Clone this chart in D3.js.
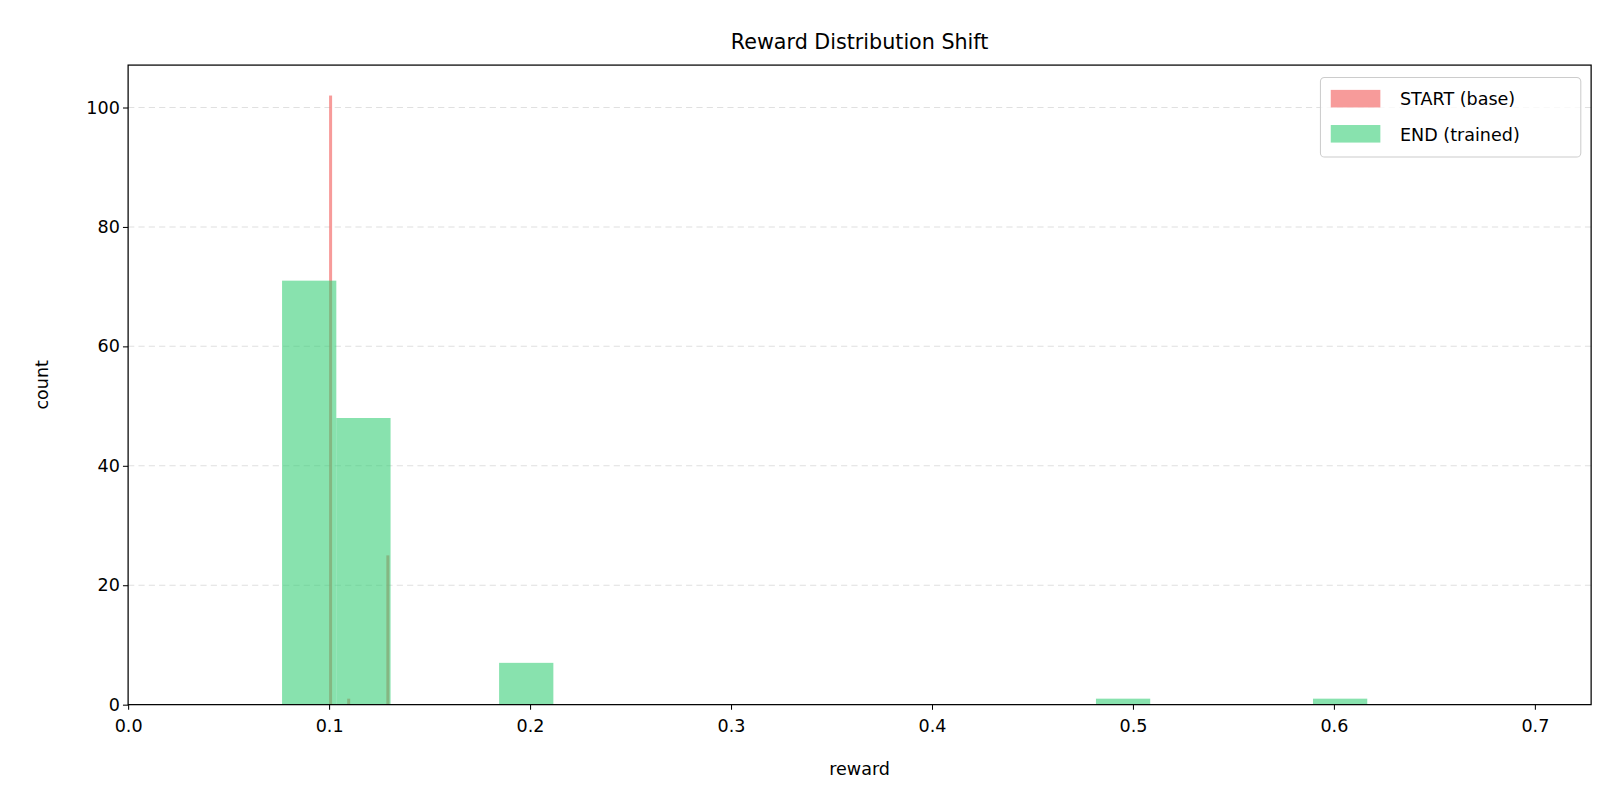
<!DOCTYPE html><html><head><meta charset="utf-8"><script src="https://cdn.jsdelivr.net/npm/d3@7"></script>
<style>body{margin:0;background:#fff}text{font-family:"DejaVu Sans",sans-serif}</style></head><body><svg id="c" width="1620" height="810"></svg>
<script>
const startBinLo=0.1, startBinW=0.0015;
const startCounts=[102,0,0,0,0,0,1,0,0,0,0,0,0,0,0,0,0,0,0,25];
const endBinLo=0.0766, endBinW=0.027;
const endCounts=[71,48,0,0,7,0,0,0,0,0,0,0,0,0,0,1,0,0,0,1];
const xTicks=[0,0.1,0.2,0.3,0.4,0.5,0.6,0.7];
const yTicks=[0,20,40,60,80,100];
const svg=d3.select("#c").append("g").attr("transform","scale(1.0332)");
const L=124,R=1540,T=63,B=682;
const x=d3.scaleLinear().domain([0,0.728]).range([L,R]);
const y=d3.scaleLinear().domain([0,107.1]).range([B,T]);
svg.append("g").selectAll("line").data(yTicks.slice(1)).join("line")
 .attr("x1",L).attr("x2",R).attr("y1",d=>y(d)).attr("y2",d=>y(d))
 .attr("stroke","#ccc").attr("stroke-opacity",0.6).attr("stroke-dasharray","6,4");
function hist(lo,w,counts,fill,op){
 svg.append("g").selectAll("rect").data(counts.map((c,i)=>({c,i})).filter(d=>d.c>0)).join("rect")
  .attr("x",d=>x(lo+d.i*w)).attr("width",d=>x(lo+(d.i+1)*w)-x(lo+d.i*w))
  .attr("y",d=>y(d.c)).attr("height",d=>B-y(d.c)).attr("fill",fill).attr("fill-opacity",op);
}
hist(startBinLo,startBinW,startCounts,"#f47a78",0.75);
hist(endBinLo,endBinW,endCounts,"#2ecc71",0.57);
const gx=svg.append("g").attr("transform",`translate(0,${B})`).call(d3.axisBottom(x).tickValues(xTicks).tickFormat(d3.format(".1f")).tickSizeOuter(0).tickSize(5));
const gy=svg.append("g").attr("transform",`translate(${L},0)`).call(d3.axisLeft(y).tickValues(yTicks).tickSizeOuter(0).tickSize(5));
[gx,gy].forEach(g=>{g.selectAll("text").attr("font-size",17).attr("fill","#000").style("font-family","DejaVu Sans");g.select(".domain").remove();g.selectAll("line").attr("stroke","#000");});
gx.selectAll("text").attr("dy","1.1em");
svg.append("rect").attr("x",L).attr("y",T).attr("width",R-L).attr("height",B-T).attr("fill","none").attr("stroke","#000").attr("stroke-width",1.2);
svg.append("text").attr("x",(L+R)/2).attr("y",47).attr("text-anchor","middle").attr("font-size",20).text("Reward Distribution Shift");
svg.append("text").attr("x",(L+R)/2).attr("y",750).attr("text-anchor","middle").attr("font-size",17).text("reward");
svg.append("text").attr("transform",`translate(46,${(T+B)/2}) rotate(-90)`).attr("text-anchor","middle").attr("font-size",17).text("count");
const lg=svg.append("g");
lg.append("rect").attr("x",1278).attr("y",75).attr("width",252).attr("height",77).attr("rx",4).attr("fill","#fff").attr("fill-opacity",0.8).attr("stroke","#ccc");
[["START (base)","#f47a78",0.75],["END (trained)","#2ecc71",0.57]].forEach((d,i)=>{
 lg.append("rect").attr("x",1288).attr("y",87+i*34).attr("width",48).attr("height",17).attr("fill",d[1]).attr("fill-opacity",d[2]);
 lg.append("text").attr("x",1355).attr("y",102+i*34).attr("font-size",17).text(d[0]);
});
</script></body></html>
